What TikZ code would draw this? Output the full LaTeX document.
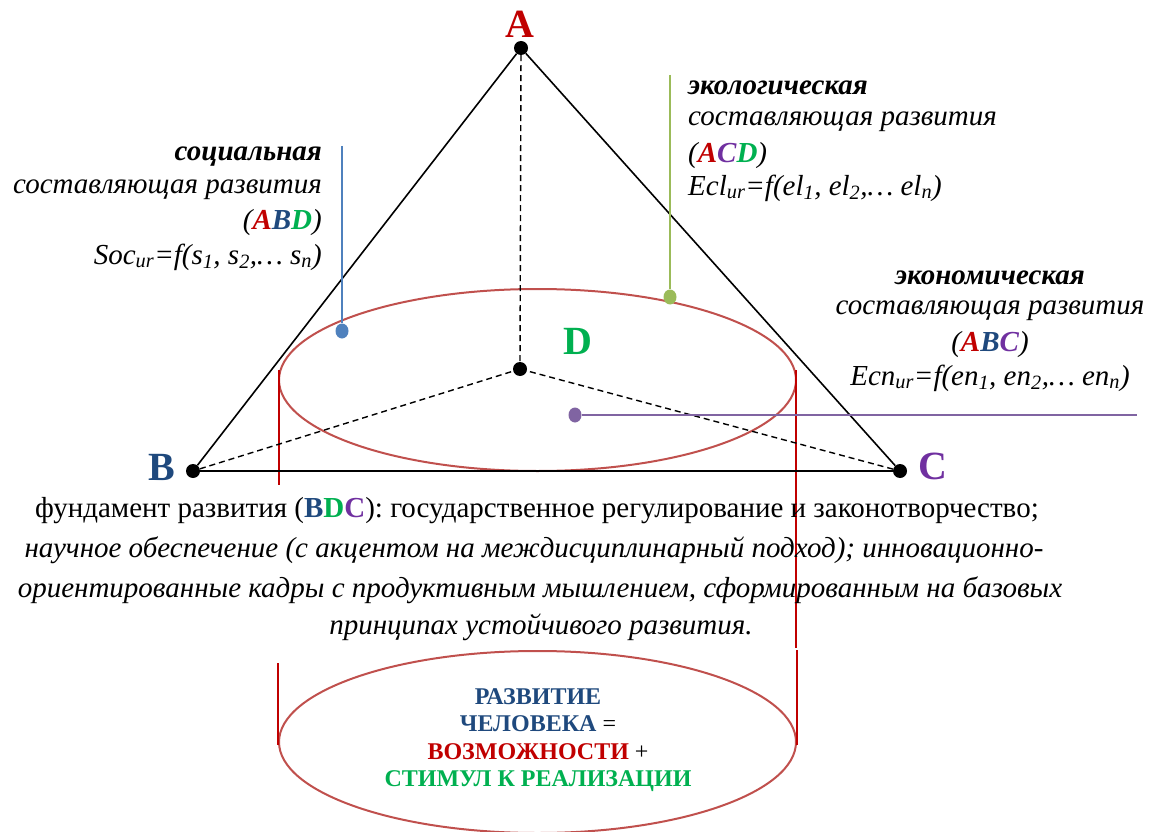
\documentclass[tikz,border=0pt]{standalone}
\usepackage{fontspec}
\usetikzlibrary{shapes.geometric}
\setmainfont{Liberation Serif}
\definecolor{cA}{HTML}{C00000}
\definecolor{cB}{HTML}{1F497D}
\definecolor{cC}{HTML}{7030A0}
\definecolor{cD}{HTML}{00B050}
\definecolor{ell}{HTML}{C0504D}
\definecolor{vred}{HTML}{C00000}
\definecolor{lblue}{HTML}{4F81BD}
\definecolor{lgreen}{HTML}{9BBB59}
\definecolor{lpurple}{HTML}{8064A2}
\begin{document}
\begin{tikzpicture}[x=1pt,y=-1pt,
  vertex/.style={circle,fill=black,inner sep=0pt,minimum size=14pt},
  cdot/.style={ellipse,inner sep=0pt,minimum width=13pt,minimum height=15pt},
  edge/.style={line width=1.6pt,black},
  hidden/.style={line width=1.4pt,black,dash pattern=on 6pt off 4pt},
  lettr/.style={font=\fontsize{40}{44}\selectfont\bfseries,inner sep=0pt},
  txt/.style={font=\fontsize{29}{33}\selectfont\itshape,inner sep=0pt},
  cyl/.style={draw=ell,line width=2pt},
  vline/.style={vred,line width=2pt},
  core/.style={font=\fontsize{24}{27.5}\selectfont\bfseries,inner sep=0pt,align=center}
]
\useasboundingbox (0,0) rectangle (1149,832);
% cylinder parts
\draw[cyl] (537.5,380) ellipse [x radius=258.5, y radius=91];
\draw[cyl] (537.5,742) ellipse [x radius=258.5, y radius=91];
\coordinate (l1t) at (279,370); \coordinate (l1b) at (279,485);
\coordinate (r1t) at (796,370); \coordinate (r1b) at (796,648);
\coordinate (l2t) at (278,663); \coordinate (l2b) at (278,745);
\coordinate (r2t) at (797,650); \coordinate (r2b) at (797,745);
\draw[vline] (l1t) -- (l1b);
\draw[vline] (r1t) -- (r1b);
\draw[vline] (l2t) -- (l2b);
\draw[vline] (r2t) -- (r2b);
% vertices
\node[vertex] (A) at (521,48) {};
\node[vertex] (B) at (193,471) {};
\node[vertex] (C) at (900,471) {};
\node[vertex] (D) at (520,369) {};
\draw[edge] (A) -- (B);
\draw[edge] (A) -- (C);
\draw[edge] (B) -- (C);
\draw[hidden] (A) -- (D);
\draw[hidden] (B) -- (D);
\draw[hidden] (C) -- (D);
\node[lettr,text=cA] (lA) at (520,24) {A};
\node[lettr,text=cB] (lB) at (162,467) {B};
\node[lettr,text=cC] (lC) at (933,466) {C};
\node[lettr,text=cD] (lD) at (578,341) {D};
% pointer lines
\node[cdot,fill=lblue] (ps) at (342,331) {};
\coordinate (ps0) at (342,146);
\draw[lblue,line width=2pt] (ps0) -- (ps);
\node[cdot,fill=lgreen] (pe) at (670,297) {};
\coordinate (pe0) at (670,75);
\draw[lgreen,line width=2pt] (pe0) -- (pe);
\node[cdot,fill=lpurple] (pc) at (575,415) {};
\coordinate (pc0) at (1137,415);
\draw[lpurple,line width=2pt] (pc) -- (pc0);
% social
\node[txt,anchor=east] (s1) at (322,157) {\bfseries социальная};
\node[txt,anchor=east] (s2) at (322,190) {составляющая развития};
\node[txt,anchor=east] (s3) at (322,223) {(\textcolor{cA}{\bfseries A}\textcolor{cB}{\bfseries B}\textcolor{cD}{\bfseries D})};
\node[txt,anchor=east] (s4) at (322,257) {Soc\textsubscript{ur}=f(s\textsubscript{1}, s\textsubscript{2},\dots\ s\textsubscript{n})};
% ecological
\node[txt,anchor=west] (e1) at (688,88) {\bfseries экологическая};
\node[txt,anchor=west] (e2) at (688,122) {составляющая развития};
\node[txt,anchor=west] (e3) at (688,156) {(\textcolor{cA}{\bfseries A}\textcolor{cC}{\bfseries C}\textcolor{cD}{\bfseries D})};
\node[txt,anchor=west] (e4) at (688,188) {Ecl\textsubscript{ur}=f(el\textsubscript{1}, el\textsubscript{2},\dots\ el\textsubscript{n})};
% economic
\node[txt] (c1) at (990,278) {\bfseries экономическая};
\node[txt] (c2) at (990,311) {составляющая развития};
\node[txt] (c3) at (990,345) {(\textcolor{cA}{\bfseries A}\textcolor{cB}{\bfseries B}\textcolor{cC}{\bfseries C})};
\node[txt] (c4) at (990,378) {Ecn\textsubscript{ur}=f(en\textsubscript{1}, en\textsubscript{2},\dots\ en\textsubscript{n})};
% foundation
\node[txt,font=\fontsize{29}{33}\selectfont] (f1) at (537,511) {фундамент развития (\textcolor{cB}{\bfseries B}\textcolor{cD}{\bfseries D}\textcolor{cC}{\bfseries C}): государственное регулирование и законотворчество;};
\node[txt] (f2) at (534,550) {научное обеспечение (с акцентом на междисциплинарный подход); инновационно-};
\node[txt] (f3) at (540,590) {ориентированные кадры с продуктивным мышлением, сформированным на базовых};
\node[txt] (f4) at (541,627) {принципах устойчивого развития.};
% core
\node[core] (k) at (538,740) {\textcolor{cB}{РАЗВИТИЕ}\\\textcolor{cB}{ЧЕЛОВЕКА} \mdseries=\\\textcolor{cA}{ВОЗМОЖНОСТИ} \mdseries+\\\textcolor{cD}{СТИМУЛ К РЕАЛИЗАЦИИ}};
\end{tikzpicture}
\end{document}
